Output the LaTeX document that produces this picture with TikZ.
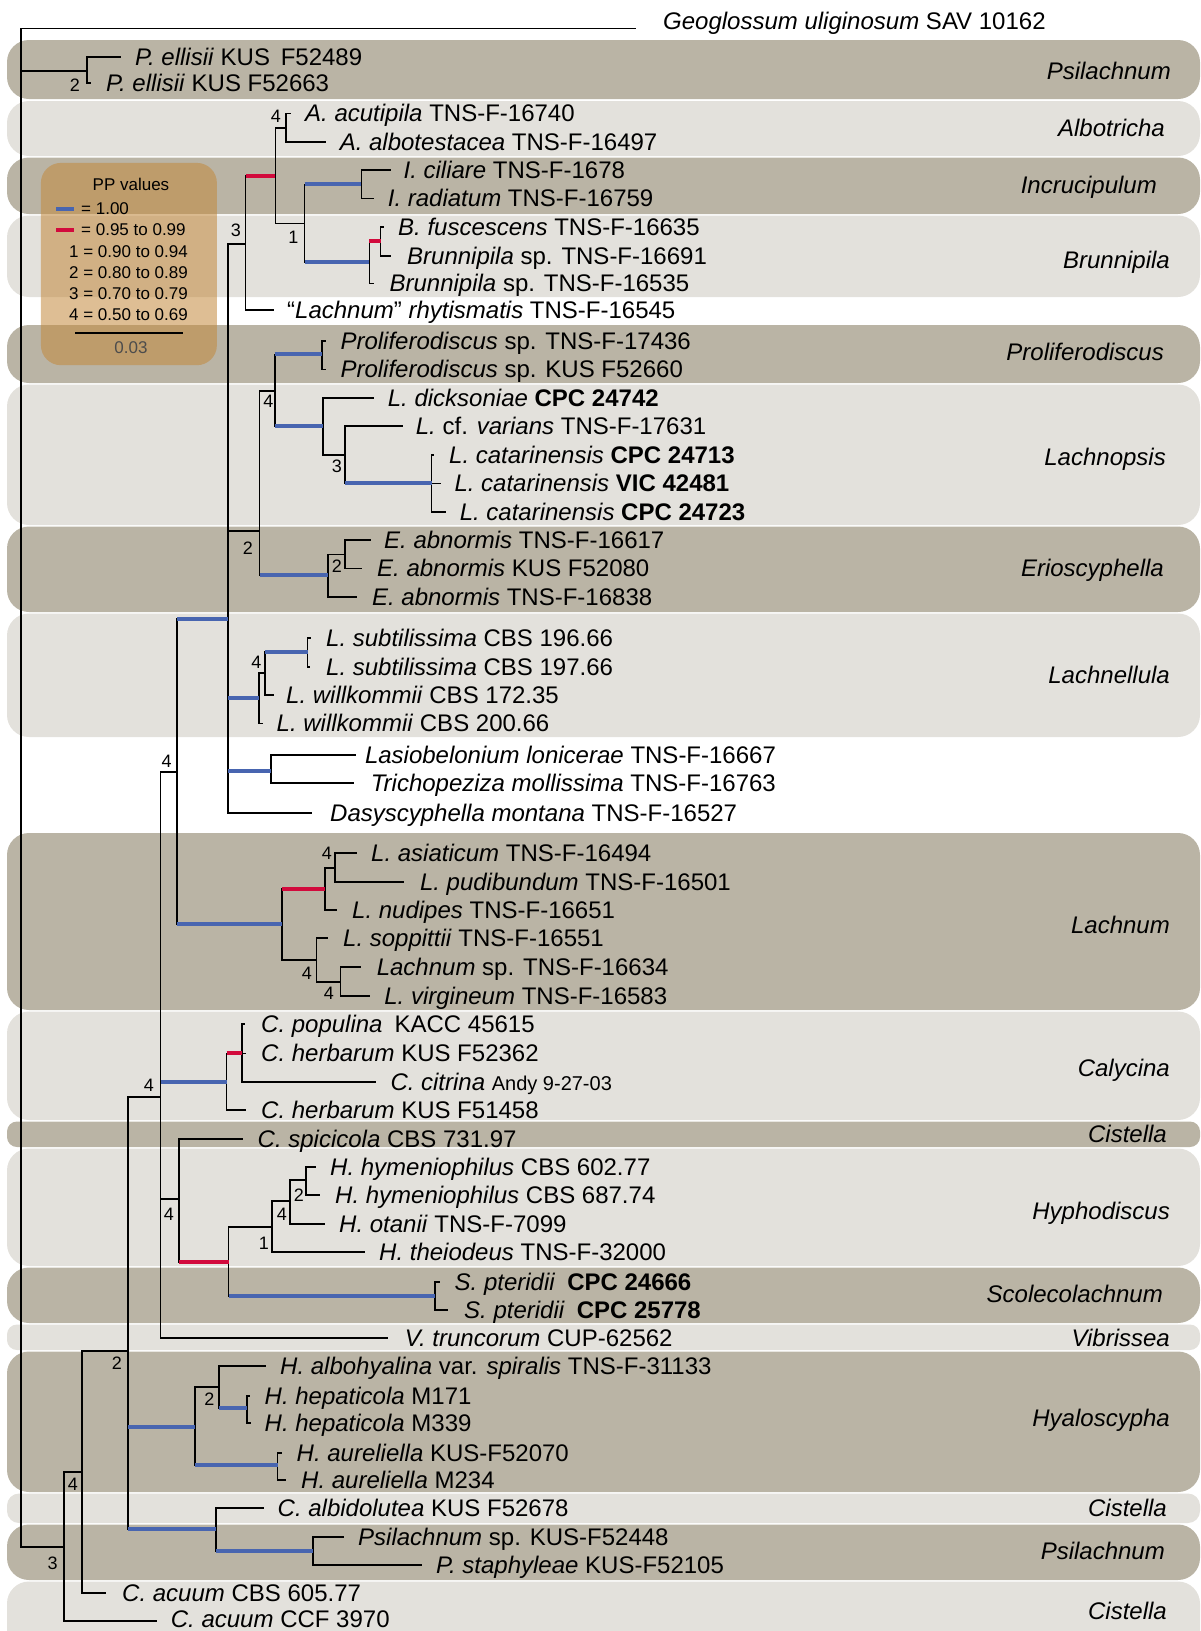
\documentclass[tikz,border=0pt]{standalone}
\usepackage{fontspec}
\setmainfont{Liberation Sans}
\definecolor{banddark}{RGB}{186,180,165}
\definecolor{bandlight}{RGB}{227,225,220}
\definecolor{ppblue}{RGB}{72,101,176}
\definecolor{ppred}{RGB}{210,10,60}
\definecolor{legfill}{RGB}{195,137,61}
\newcommand{\leafx}[5]{\coordinate (#1) at (#2,#3); \node[taxon] (#1-t) at (#4,#3+8.5) {#5};}
\newcommand{\bandx}[4]{\fill[#3, rounded corners=#4pt] (7,#1) rectangle (1200,#2);}
\newcommand{\kids}[2]{\foreach \kd in {#2}{\draw[br] (#1) |- (\kd);}}
\newcommand{\bluebar}[2]{\draw[ppb] (#1 |- #2) -- (#2);}
\newcommand{\redbar}[2]{\draw[ppr] (#1 |- #2) -- (#2);}
\begin{document}
\begin{tikzpicture}[x=1pt,y=-1pt,
  br/.style={line width=1.6pt, black},
  ppb/.style={line width=4.2pt, ppblue},
  ppr/.style={line width=4.2pt, ppred},
  taxon/.style={anchor=base west, inner sep=0pt, font=\fontsize{24}{28}\selectfont},
  clade/.style={anchor=base east, inner sep=0pt, font=\fontsize{24}{28}\selectfont\itshape},
  supp/.style={inner sep=0pt, font=\fontsize{18}{20}\selectfont},
  legtxt/.style={inner sep=0pt, font=\fontsize{17}{20}\selectfont}]
\useasboundingbox (0,0) rectangle (1200,1631);
% ---------- clade bands ----------
\bandx{40}{99}{banddark}{22}
\bandx{101}{156}{bandlight}{22}
\bandx{157.5}{214}{banddark}{22}
\bandx{215.5}{297}{bandlight}{22}
\bandx{325}{383}{banddark}{22}
\bandx{384.5}{525}{bandlight}{22}
\bandx{526.5}{612}{banddark}{22}
\bandx{613.5}{737}{bandlight}{22}
\bandx{833}{1010}{banddark}{22}
\bandx{1011.5}{1120}{bandlight}{22}
\bandx{1121.5}{1147}{banddark}{10}
\bandx{1148.5}{1266}{bandlight}{22}
\bandx{1267.5}{1323}{banddark}{22}
\bandx{1324.5}{1350}{bandlight}{10}
\bandx{1351.5}{1492}{banddark}{22}
\bandx{1493.5}{1523}{bandlight}{12}
\bandx{1524.5}{1580}{banddark}{22}
\bandx{1581.5}{1660}{bandlight}{22}
% ---------- clade names ----------
\node[clade] (c1) at (1171,79.2) {Psilachnum};
\node[clade] (c2) at (1165,136.5) {Albotricha};
\node[clade] (c3) at (1157,193.5) {Incrucipulum};
\node[clade] (c4) at (1170,268.5) {Brunnipila};
\node[clade] (c5) at (1164,360.5) {Proliferodiscus};
\node[clade] (c6) at (1166,465.5) {Lachnopsis};
\node[clade] (c7) at (1164,576.5) {Erioscyphella};
\node[clade] (c8) at (1170,683.5) {Lachnellula};
\node[clade] (c9) at (1170,933.5) {Lachnum};
\node[clade] (c10) at (1170,1076.5) {Calycina};
\node[clade] (c11) at (1167,1142.5) {Cistella};
\node[clade] (c12) at (1170,1219.5) {Hyphodiscus};
\node[clade] (c13) at (1163,1302) {Scolecolachnum};
\node[clade] (c14) at (1170,1346.5) {Vibrissea};
\node[clade] (c15) at (1170,1426.5) {Hyaloscypha};
\node[clade] (c16) at (1167,1516.5) {Cistella};
\node[clade] (c17) at (1165,1559.5) {Psilachnum};
\node[clade] (c18) at (1167,1619.5) {Cistella};
% ---------- legend ----------
\node[fill=legfill, fill opacity=0.55, rounded corners=20pt, minimum width=176pt, minimum height=202.3pt, anchor=north west, inner sep=0pt] (legend) at (40.7,162.7) {};
\node[legtxt] (lt) at (131,184) {PP values};
\draw[ppb] (56,208.7) -- (74,208.7);
\node[legtxt, anchor=west] (l1) at (81,208.7) {= 1.00};
\draw[ppr] (56,230) -- (74,230);
\node[legtxt, anchor=west] (l2) at (81,230) {= 0.95 to 0.99};
\node[legtxt, anchor=east] (l3) at (188,251.7) {1 = 0.90 to 0.94};
\node[legtxt, anchor=east] (l4) at (188,273) {2 = 0.80 to 0.89};
\node[legtxt, anchor=east] (l5) at (188,294) {3 = 0.70 to 0.79};
\node[legtxt, anchor=east] (l6) at (188,315) {4 = 0.50 to 0.69};
\draw[line width=2.5pt] (75,333) -- (182.7,333);
\node[legtxt, text=black!70] (lsc) at (131,348) {0.03};
% ---------- internal nodes ----------
\coordinate (R) at (21,28.3);
\coordinate (PE) at (87,70.7);
\coordinate (N3) at (64,1547);
\coordinate (N4b) at (82,1472);
\coordinate (N2) at (128,1351);
\coordinate (C) at (160.5,1097);
\coordinate (A) at (177,772);
\coordinate (P) at (228,619);
\coordinate (S) at (245.6,244);
\coordinate (T) at (275.4,175.7);
\coordinate (U) at (286,127.7);
\coordinate (nV) at (304.5,223.3);
\coordinate (W) at (361.3,184.3);
\coordinate (X) at (369.4,262.3);
\coordinate (Y) at (380.6,241);
\coordinate (Z) at (259.6,530.7);
\coordinate (AA) at (274.7,391);
\coordinate (PR) at (322,354.3);
\coordinate (BB) at (322.8,426);
\coordinate (CC) at (344.9,455);
\coordinate (DD) at (431.5,483.3);
\coordinate (EE) at (328,575);
\coordinate (FF) at (344.9,554.3);
\coordinate (Lnl) at (259,698);
\coordinate (Lq) at (265,673);
\coordinate (Sub) at (307.5,652);
\coordinate (LaT) at (271,770.7);
\coordinate (L) at (282,924);
\coordinate (L1) at (325,889);
\coordinate (L1a) at (335,868);
\coordinate (L2) at (316.5,960);
\coordinate (L2a) at (340.6,982);
\coordinate (GG) at (226.5,1081.7);
\coordinate (HH) at (241.8,1053.3);
\coordinate (E) at (179,1199);
\coordinate (F) at (228.5,1262);
\coordinate (G) at (272,1227);
\coordinate (H) at (290,1201);
\coordinate (I) at (306,1180);
\coordinate (SP) at (435,1296);
\coordinate (Hy) at (195,1427);
\coordinate (K) at (219,1387);
\coordinate (Lh) at (247,1408);
\coordinate (M) at (277.5,1465);
\coordinate (CP) at (216,1529);
\coordinate (O) at (313,1551);
% ---------- tips ----------
\coordinate (geo) at (636,28.3);
\node[taxon] (geo-t) at (663,29.5) {\textit{Geoglossum uliginosum} SAV 10162};
\leafx{pe1}{120.7}{56.7}{135}{\textit{P. ellisii} KUS\hspace{0.45em}F52489}
\leafx{pe2}{90.7}{82.7}{106}{\textit{P. ellisii} KUS F52663}
\leafx{acut}{291}{113.3}{305}{\textit{A. acutipila} TNS-F-16740}
\leafx{albo}{326}{141.7}{339.6}{\textit{A. albotestacea} TNS-F-16497}
\leafx{cil}{391}{170}{403.4}{\textit{I. ciliare} TNS-F-1678}
\leafx{rad}{373.6}{198.3}{387.7}{\textit{I. radiatum} TNS-F-16759}
\leafx{fus}{384}{226.7}{398}{\textit{B. fuscescens} TNS-F-16635}
\leafx{brb}{391}{255.7}{407}{\textit{Brunnipila} sp. TNS-F-16691}
\leafx{brc}{373.6}{283.3}{389.4}{\textit{Brunnipila} sp. TNS-F-16535}
\leafx{rhy}{273.7}{310}{287}{“\textit{Lachnum}” \textit{rhytismatis} TNS-F-16545}
\leafx{pra}{326}{341}{340.3}{\textit{Proliferodiscus} sp. TNS-F-17436}
\leafx{prb}{325.6}{369.3}{340.3}{\textit{Proliferodiscus} sp. KUS F52660}
\leafx{dic}{373.6}{397.7}{387.7}{\textit{L. dicksoniae} \textbf{CPC 24742}}
\leafx{var}{402.7}{426}{415.7}{\textit{L.} cf. \textit{varians} TNS-F-17631}
\leafx{cata}{434}{455}{449}{\textit{L. catarinensis} \textbf{CPC 24713}}
\leafx{catb}{440.6}{483.3}{454.3}{\textit{L. catarinensis} \textbf{VIC 42481}}
\leafx{catc}{445.5}{511.7}{459.6}{\textit{L. catarinensis} \textbf{CPC 24723}}
\leafx{eaa}{370.8}{540}{384}{\textit{E. abnormis} TNS-F-16617}
\leafx{eab}{362.4}{568.3}{377}{\textit{E. abnormis} KUS F52080}
\leafx{eac}{356.8}{596.7}{371.9}{\textit{E. abnormis} TNS-F-16838}
\leafx{sba}{311}{638}{326}{\textit{L. subtilissima} CBS 196.66}
\leafx{sbb}{309.6}{667}{326}{\textit{L. subtilissima} CBS 197.66}
\leafx{wia}{273.5}{695}{286}{\textit{L. willkommii} CBS 172.35}
\leafx{wib}{262.8}{723.3}{276.5}{\textit{L. willkommii} CBS 200.66}
\leafx{las}{356}{755}{364.8}{\textit{Lasiobelonium lonicerae} TNS-F-16667}
\leafx{tri}{354}{783}{370.6}{\textit{Trichopeziza mollissima} TNS-F-16763}
\leafx{das}{311.7}{812.7}{330}{\textit{Dasyscyphella montana} TNS-F-16527}
\leafx{asi}{357}{853}{371}{\textit{L. asiaticum} TNS-F-16494}
\leafx{pud}{404}{882}{419.8}{\textit{L. pudibundum} TNS-F-16501}
\leafx{nud}{337}{910}{352}{\textit{L. nudipes} TNS-F-16651}
\leafx{sop}{328}{938}{343}{\textit{L. soppittii} TNS-F-16551}
\leafx{lsp}{361}{967}{376.6}{\textit{Lachnum} sp. TNS-F-16634}
\leafx{vir}{370}{996}{384.2}{\textit{L. virgineum} TNS-F-16583}
\leafx{pop}{245}{1024}{261}{\textit{C. populina}\hspace{0.5em}KACC 45615}
\leafx{hea}{245.7}{1053.3}{261}{\textit{C. herbarum} KUS F52362}
\leafx{cit}{375.8}{1081.7}{390.3}{\textit{C. citrina} {\fontsize{20}{22}\selectfont Andy 9-27-03}}
\leafx{heb}{245.7}{1110}{261}{\textit{C. herbarum} KUS F51458}
\leafx{spi}{243}{1139}{257.5}{\textit{C. spicicola} CBS 731.97}
\leafx{hya}{316}{1167}{330}{\textit{H. hymeniophilus} CBS 602.77}
\leafx{hyb}{320}{1195}{335}{\textit{H. hymeniophilus} CBS 687.74}
\leafx{ota}{325}{1224}{339}{\textit{H. otanii} TNS-F-7099}
\leafx{the}{365}{1252}{379}{\textit{H. theiodeus} TNS-F-32000}
\leafx{spa}{440}{1282}{454.5}{\textit{S. pteridii}\hspace{0.5em}\textbf{CPC 24666}}
\leafx{spb}{447.5}{1310}{464}{\textit{S. pteridii}\hspace{0.5em}\textbf{CPC 25778}}
\leafx{vtr}{388}{1338}{404.7}{\textit{V. truncorum} CUP-62562}
\leafx{alb}{265.5}{1366}{280}{\textit{H. albohyalina} var. \textit{spiralis} TNS-F-31133}
\leafx{hpa}{250}{1396}{264.5}{\textit{H. hepaticola} M171}
\leafx{hpb}{251}{1423}{264.5}{\textit{H. hepaticola} M339}
\leafx{aua}{282}{1453}{296.5}{\textit{H. aureliella} KUS-F52070}
\leafx{aub}{286}{1480}{301}{\textit{H. aureliella} M234}
\leafx{cal}{264}{1508}{277.5}{\textit{C. albidolutea} KUS F52678}
\leafx{psp}{343.5}{1537}{358}{\textit{Psilachnum} sp. KUS-F52448}
\leafx{pst}{422}{1565}{436}{\textit{P. staphyleae} KUS-F52105}
\leafx{aca}{106}{1593}{122}{\textit{C. acuum} CBS 605.77}
\coordinate (acb) at (157,1621);
\node[taxon] (acb-t) at (170.7,1627.5) {\textit{C. acuum} CCF 3970};
% ---------- branches ----------
\kids{R}{geo,PE,N3}
\kids{PE}{pe1,pe2}
\kids{N3}{N4b,acb}
\kids{N4b}{N2,aca}
\kids{N2}{C,Hy,CP}
\kids{C}{A,GG,E,vtr}
\kids{A}{P,L}
\kids{P}{S,Z,Lnl,LaT,das}
\kids{S}{T,rhy}
\kids{T}{U,nV}
\kids{U}{acut,albo}
\kids{nV}{W,X}
\kids{W}{cil,rad}
\kids{X}{Y,brc}
\kids{Y}{fus,brb}
\kids{Z}{AA,EE}
\kids{AA}{PR,BB}
\kids{PR}{pra,prb}
\kids{BB}{dic,CC}
\kids{CC}{var,DD}
\kids{DD}{cata,catb,catc}
\kids{EE}{FF,eac}
\kids{FF}{eaa,eab}
\kids{Lnl}{Lq,wib}
\kids{Lq}{Sub,wia}
\kids{Sub}{sba,sbb}
\kids{LaT}{las,tri}
\kids{L}{L1,L2}
\kids{L1}{L1a,nud}
\kids{L1a}{asi,pud}
\kids{L2}{sop,L2a}
\kids{L2a}{lsp,vir}
\kids{GG}{HH,heb}
\kids{HH}{pop,hea,cit}
\kids{E}{spi,F}
\kids{F}{G,SP}
\kids{G}{H,the}
\kids{H}{I,ota}
\kids{I}{hya,hyb}
\kids{SP}{spa,spb}
\kids{Hy}{K,M}
\kids{K}{alb,Lh}
\kids{Lh}{hpa,hpb}
\kids{M}{aua,aub}
\kids{CP}{cal,O}
\kids{O}{psp,pst}
% ---------- posterior probability bars ----------
\bluebar{A}{P} \bluebar{A}{L} \bluebar{nV}{W} \bluebar{nV}{X}
\bluebar{AA}{PR} \bluebar{AA}{BB} \bluebar{CC}{DD} \bluebar{Z}{EE}
\bluebar{P}{Lnl} \bluebar{Lq}{Sub} \bluebar{P}{LaT} \bluebar{C}{GG}
\bluebar{F}{SP} \bluebar{N2}{Hy} \bluebar{K}{Lh} \bluebar{Hy}{M}
\bluebar{N2}{CP} \bluebar{CP}{O}
\redbar{S}{T} \redbar{X}{Y} \redbar{L}{L1} \redbar{GG}{HH} \redbar{E}{F}
% ---------- support values ----------
\node[supp] (s1) at (75,85) {2};
\node[supp] (s2) at (276,116) {4};
\node[supp] (s3) at (236,230.7) {3};
\node[supp] (s4) at (293.3,237) {1};
\node[supp] (s5) at (268.4,401.7) {4};
\node[supp] (s6) at (336.8,466.7) {3};
\node[supp] (s7) at (248,548.3) {2};
\node[supp] (s8) at (336.8,566) {2};
\node[supp] (s9) at (256.5,662.7) {4};
\node[supp] (s10) at (166.7,761.7) {4};
\node[supp] (s11) at (327,853) {4};
\node[supp] (s12) at (307,973) {4};
\node[supp] (s13) at (329,993) {4};
\node[supp] (s14) at (149,1085) {4};
\node[supp] (s15) at (169,1214) {4};
\node[supp] (s16) at (264,1243) {1};
\node[supp] (s17) at (282,1214) {4};
\node[supp] (s18) at (299,1195) {2};
\node[supp] (s19) at (117,1363) {2};
\node[supp] (s20) at (209.5,1399) {2};
\node[supp] (s21) at (73,1484) {4};
\node[supp] (s22) at (52.6,1563) {3};
\end{tikzpicture}
\end{document}
